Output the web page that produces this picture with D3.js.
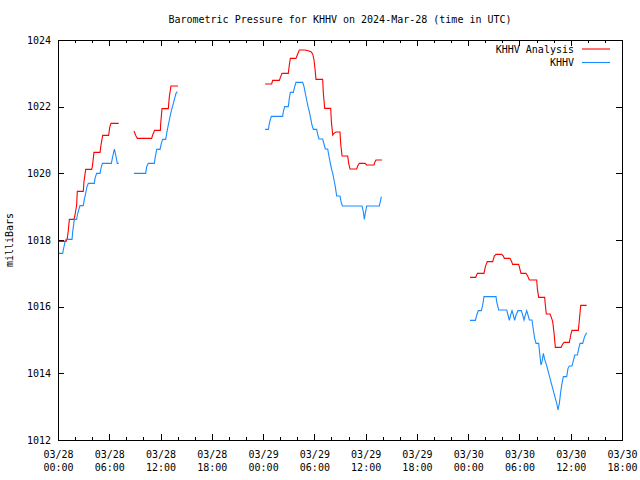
<!DOCTYPE html>
<html>
<head>
<meta charset="utf-8">
<script src="https://cdn.jsdelivr.net/npm/d3@7"></script>
<style>
  html, body { margin: 0; padding: 0; background: #fff; }
  svg { display: block; }
  text { font-family: "DejaVu Sans Mono", "Liberation Mono", monospace; font-size: 10px; fill: #000; }
</style>
</head>
<body>
<div id="chart"></div>
<script>
// ---- data (hours since 2024-03-28 00:00 UTC, pressure in mb); null = gap ----
const titleText = "Barometric Pressure for KHHV on 2024-Mar-28 (time in UTC)";
const yLabel = "milliBars";
const seriesNames = ["KHHV Analysis", "KHHV"];
const seriesColors = ["#ff0000", "#1a8cff"];
const yTicks = [1012, 1014, 1016, 1018, 1020, 1022, 1024];

const analysisHours = [
  0.1,0.94,1.09,1.21,1.33,1.87,1.99,2.18,2.26,2.96,3.04,3.24,3.94,4.02,4.21,4.92,5.03,5.23,5.93,6.05,6.2,7.1,
  null,
  8.89,9.13,9.28,10.96,11.08,11.31,11.98,12.02,12.17,12.91,13.03,13.22,14.04,
  null,
  24.23,25.0,25.12,25.9,26.06,26.21,26.95,27.07,27.19,27.85,28.0,28.24,28.9,29.3,29.6,29.8,29.96,30.07,30.19,30.97,31.05,31.21,31.91,31.99,32.15,32.3,32.53,33.0,33.08,33.24,33.9,34.02,34.17,34.95,35.07,35.26,35.93,36.12,36.98,37.1,37.21,37.92,
  null,
  48.21,48.88,49.08,49.85,50.01,50.24,50.87,51.06,51.26,51.92,52.12,52.23,52.9,53.09,53.2,53.91,54.06,54.18,54.77,54.96,55.16,56.02,56.09,56.25,56.95,57.03,57.14,57.58,57.73,57.89,58.05,58.2,58.87,59.06,59.22,59.84,60.0,60.15,60.89,61.01,61.17,61.87
];
const analysisMb = [
  1017.96,1017.96,1018.05,1018.3,1018.62,1018.62,1018.75,1019.05,1019.46,1019.46,1019.75,1020.12,1020.12,1020.2,1020.63,1020.63,1020.85,1021.14,1021.14,1021.38,1021.5,1021.5,
  null,
  1021.27,1021.12,1021.05,1021.05,1021.15,1021.29,1021.29,1021.5,1021.94,1021.94,1022.3,1022.62,1022.62,
  null,
  1022.68,1022.68,1022.79,1022.79,1022.9,1023.0,1023.0,1023.25,1023.45,1023.45,1023.55,1023.7,1023.7,1023.68,1023.65,1023.58,1023.4,1023.15,1022.82,1022.82,1022.4,1021.95,1021.95,1021.55,1021.15,1021.2,1021.24,1021.24,1020.9,1020.52,1020.52,1020.3,1020.13,1020.13,1020.22,1020.3,1020.3,1020.25,1020.25,1020.35,1020.4,1020.4,
  null,
  1016.88,1016.88,1017.0,1017.0,1017.2,1017.35,1017.35,1017.52,1017.57,1017.57,1017.52,1017.45,1017.45,1017.35,1017.27,1017.27,1017.12,1017.0,1017.0,1016.92,1016.8,1016.8,1016.55,1016.28,1016.28,1016.05,1015.78,1015.78,1015.68,1015.55,1015.2,1014.78,1014.78,1014.88,1014.93,1014.93,1015.15,1015.29,1015.29,1015.6,1016.04,1016.04
];

const obsHours = [
  0.1,0.55,0.62,0.78,0.94,1.64,1.72,1.91,2.18,2.26,2.42,2.57,2.96,3.08,3.24,3.39,3.55,4.25,4.33,4.52,4.92,5.03,5.19,6.24,6.4,6.6,6.79,6.94,7.1,
  null,
  8.89,10.26,10.38,10.57,11.27,11.39,11.55,11.94,12.09,12.25,12.6,12.72,12.87,13.03,13.19,13.34,13.5,13.65,13.81,13.96,
  null,
  24.23,24.62,24.73,24.96,26.29,26.37,26.53,26.95,27.07,27.19,27.54,27.7,27.85,28.63,28.79,28.94,29.1,29.26,29.41,29.57,29.72,29.88,30.27,30.39,30.54,30.97,31.13,31.28,31.56,31.68,31.83,31.99,32.15,32.3,32.45,32.61,33.0,33.12,33.28,35.58,35.73,35.85,35.96,36.12,37.6,37.72,37.84,
  null,
  48.21,48.84,49.0,49.19,49.54,49.7,49.85,51.26,51.33,51.57,52.51,52.66,52.82,52.97,53.13,53.28,53.44,53.6,53.83,54.22,54.38,54.53,54.69,54.85,55.0,55.16,55.47,55.63,55.78,55.94,56.25,56.41,56.52,56.64,56.8,56.95,57.11,57.27,57.42,57.58,57.73,57.89,58.05,58.2,58.36,58.51,58.67,58.83,58.98,59.14,59.53,59.68,59.84,60.15,60.31,60.47,60.78,60.94,61.09,61.4,61.56,61.71,61.87
];
const obsMb = [
  1017.6,1017.6,1017.7,1017.9,1018.02,1018.02,1018.25,1018.62,1018.62,1018.75,1018.9,1019.03,1019.03,1019.22,1019.4,1019.6,1019.7,1019.7,1019.85,1020.0,1020.0,1020.15,1020.3,1020.3,1020.5,1020.73,1020.5,1020.3,1020.3,
  null,
  1020.0,1020.0,1020.2,1020.3,1020.3,1020.5,1020.72,1020.72,1020.9,1021.02,1021.02,1021.2,1021.4,1021.6,1021.8,1021.95,1022.1,1022.25,1022.4,1022.45,
  null,
  1021.32,1021.32,1021.5,1021.71,1021.71,1021.85,1022.0,1022.0,1022.25,1022.43,1022.43,1022.6,1022.73,1022.73,1022.6,1022.4,1022.2,1022.0,1021.85,1021.65,1021.45,1021.32,1021.32,1021.17,1021.03,1021.03,1020.88,1020.73,1020.73,1020.55,1020.35,1020.15,1020.0,1019.8,1019.6,1019.32,1019.32,1019.15,1019.02,1019.02,1018.85,1018.62,1018.8,1019.02,1019.02,1019.15,1019.3,
  null,
  1015.59,1015.59,1015.75,1015.88,1015.88,1016.05,1016.3,1016.3,1016.15,1015.9,1015.9,1015.75,1015.59,1015.75,1015.88,1015.75,1015.59,1015.75,1015.88,1015.88,1015.75,1015.6,1015.75,1015.88,1015.75,1015.6,1015.6,1015.3,1015.05,1014.9,1014.9,1014.5,1014.25,1014.35,1014.6,1014.42,1014.3,1014.15,1014.0,1013.85,1013.7,1013.55,1013.4,1013.25,1013.1,1012.9,1013.1,1013.45,1013.7,1013.9,1013.9,1014.15,1014.22,1014.22,1014.38,1014.55,1014.55,1014.75,1014.9,1014.9,1015.05,1015.15,1015.22
];

// ---- layout ----
const W = 640, H = 480;
const L = 58, R = 622, T = 40, B = 440;
const start = Date.UTC(2024, 2, 28, 0, 0);
const end = Date.UTC(2024, 2, 30, 18, 0);
const toDate = h => new Date(start + h * 3600000);

const x = d3.scaleUtc().domain([new Date(start), new Date(end)]).range([L, R]);
const y = d3.scaleLinear().domain([1012, 1024]).range([B, T]);

const svg = d3.select("#chart").append("svg").attr("width", W).attr("height", H);

const majorTicks = d3.utcHour.every(6).range(new Date(start), new Date(end + 1));
const minorTicks = d3.utcHour.every(2).range(new Date(start), new Date(end + 1));
const fmtDate = d3.utcFormat("%m/%d"), fmtTime = d3.utcFormat("%H:%M");

// minor ticks (bottom/top)
svg.append("g").attr("transform", `translate(0,${B})`)
  .call(d3.axisBottom(x).tickValues(minorTicks).tickSize(-3).tickFormat(""))
  .call(g => g.select(".domain").remove());
svg.append("g").attr("transform", `translate(0,${T})`)
  .call(d3.axisTop(x).tickValues(minorTicks).tickSize(-3).tickFormat(""))
  .call(g => g.select(".domain").remove());

// major bottom axis with two-line labels
const xb = svg.append("g").attr("transform", `translate(0,${B})`)
  .call(d3.axisBottom(x).tickValues(majorTicks).tickSize(-6).tickFormat(""))
  .call(g => g.select(".domain").remove());
xb.selectAll(".tick").each(function(d) {
  const t = d3.select(this).select("text").attr("y", 0).attr("dy", null)
    .attr("font-family", null).attr("font-size", null);
  t.append("tspan").attr("x", 0).attr("y", 18).text(fmtDate(d));
  t.append("tspan").attr("x", 0).attr("y", 31).text(fmtTime(d));
});
svg.append("g").attr("transform", `translate(0,${T})`)
  .call(d3.axisTop(x).tickValues(majorTicks).tickSize(-6).tickFormat(""))
  .call(g => g.select(".domain").remove());

// y axes
svg.append("g").attr("transform", `translate(${L},0)`)
  .call(d3.axisLeft(y).tickValues(yTicks).tickSize(-6).tickPadding(7).tickFormat(d3.format("d")))
  .call(g => g.select(".domain").remove())
  .call(g => g.selectAll("text").attr("font-family", null).attr("font-size", null));
svg.append("g").attr("transform", `translate(${R},0)`)
  .call(d3.axisRight(y).tickValues(yTicks).tickSize(-6).tickFormat(""))
  .call(g => g.select(".domain").remove());

svg.selectAll(".tick line").attr("stroke", "#000").attr("shape-rendering", "crispEdges");

// frame
svg.append("rect").attr("x", L).attr("y", T).attr("width", R - L).attr("height", B - T)
  .attr("fill", "none").attr("stroke", "#000").attr("stroke-width", 1).attr("shape-rendering", "crispEdges");

// lines
const mk = (hs, vs) => hs.map((h, i) => (h === null || vs[i] === null) ? null : { t: toDate(h), v: vs[i] });
const line = d3.line().defined(d => d !== null).x(d => x(d.t)).y(d => y(d.v));
const series = [mk(analysisHours, analysisMb), mk(obsHours, obsMb)];
series.forEach((s, i) => {
  svg.append("path").datum(s).attr("d", line).attr("fill", "none")
    .attr("stroke", seriesColors[i]).attr("stroke-width", 1.1);
});

// title
svg.append("text").attr("x", (L + R) / 2).attr("y", 23).attr("text-anchor", "middle").text(titleText);
// y label
svg.append("text").attr("transform", `translate(13,${(T + B) / 2}) rotate(-90)`)
  .attr("text-anchor", "middle").text(yLabel);

// legend
seriesNames.forEach((n, i) => {
  const ly = 49 + i * 13.5;
  svg.append("text").attr("x", 574).attr("y", ly).attr("dy", "0.35em").attr("text-anchor", "end").text(n);
  svg.append("line").attr("x1", 582).attr("x2", 610).attr("y1", ly).attr("y2", ly)
    .attr("stroke", seriesColors[i]).attr("stroke-width", 1.1);
});
</script>
</body>
</html>
